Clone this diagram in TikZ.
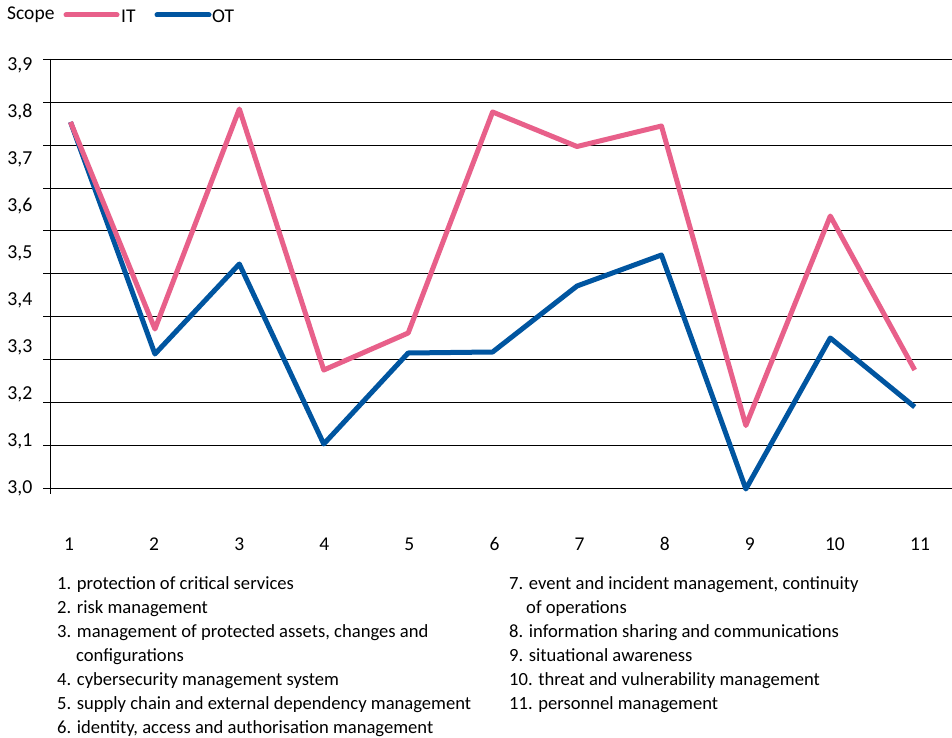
\documentclass[tikz,border=0pt]{standalone}
\usepackage{fontspec}
\setmainfont{Carlito}
\definecolor{itpink}{RGB}{232,96,138}
\definecolor{otblue}{RGB}{0,85,160}
\begin{document}
\begin{tikzpicture}[x=1pt,y=-1pt,
  gridline/.style={black,line width=0.9pt},
  axisline/.style={black,line width=1pt},
  ylab/.style={anchor=east,inner sep=0pt,font=\fontsize{19.8}{22}\selectfont},
  xlab/.style={anchor=center,inner sep=0pt,font=\fontsize{19.5}{22}\selectfont},
  legtext/.style={anchor=west,inner sep=0pt,font=\fontsize{19.5}{22}\selectfont},
  itemtext/.style={anchor=base west,inner sep=0pt,font=\fontsize{18.6}{22}\selectfont},
  itline/.style={itpink,line width=5pt,line join=round},
  otline/.style={otblue,line width=5pt,line join=round}]
\useasboundingbox (0,0) rectangle (952,738);
\fill[white] (0,0) rectangle (952,738);
% legend
\node[legtext] (scope) at (7,15) {Scope};
\coordinate (itA) at (66,15);
\coordinate (itB) at (117,15);
\draw[itline,line cap=round] (itA) -- (itB);
\node[legtext] (itlab) at (121,16) {IT};
\coordinate (otA) at (157,15);
\coordinate (otB) at (209,15);
\draw[otline,line cap=round] (otA) -- (otB);
\node[legtext] (otlab) at (212,16) {OT};
% grid
\foreach \k in {0,...,10}
  \draw[gridline] (43,{59.3+\k*42.9}) -- (952,{59.3+\k*42.9});
\draw[axisline] (50.3,58.8) -- (50.3,493.5);
% y labels
\foreach \v [count=\k from 0] in {9,8,7,6,5,4,3,2,1,0}
  \node[ylab] (y\k) at (32.5,{65+\k*47.05}) {3,\v};
% x labels
\foreach \i in {1,...,11}
  \node[xlab] (x\i) at ({69+(\i-1)*85.1},544) {\i};
% data
\foreach \i/\a/\b in {1/122/122,2/329/354,3/109/264,4/370/444,5/333/353,6/112/352,7/146.5/286,8/126/255,9/425.5/489,10/216/338,11/370/407}{
  \coordinate (it\i) at ({70.5+(\i-1)*84.42},\a);
  \coordinate (ot\i) at ({70.5+(\i-1)*84.42},\b);
}
\draw[otline] (ot1) -- (ot2) -- (ot3) -- (ot4) -- (ot5) -- (ot6) -- (ot7) -- (ot8) -- (ot9) -- (ot10) -- (ot11);
\draw[itline] (it1) -- (it2) -- (it3) -- (it4) -- (it5) -- (it6) -- (it7) -- (it8) -- (it9) -- (it10) -- (it11);
% item list
\node[itemtext] (l1) at (57,589.3) {1. protection of critical services};
\node[itemtext] (l2) at (57,613.3) {2. risk management};
\node[itemtext] (l3) at (57,637.3) {3. management of protected assets, changes and};
\node[itemtext] (l3b) at (76,661.3) {configurations};
\node[itemtext] (l4) at (57,685.3) {4. cybersecurity management system};
\node[itemtext] (l5) at (57,709.3) {5. supply chain and external dependency management};
\node[itemtext] (l6) at (57,733.3) {6. identity, access and authorisation management};
\node[itemtext] (r7) at (509,589.3) {7. event and incident management, continuity};
\node[itemtext] (r7b) at (526,613.3) {of operations};
\node[itemtext] (r8) at (509,637.3) {8. information sharing and communications};
\node[itemtext] (r9) at (509,661.3) {9. situational awareness};
\node[itemtext] (r10) at (509,685.3) {10. threat and vulnerability management};
\node[itemtext] (r11) at (509,709.3) {11. personnel management};
\end{tikzpicture}
\end{document}
